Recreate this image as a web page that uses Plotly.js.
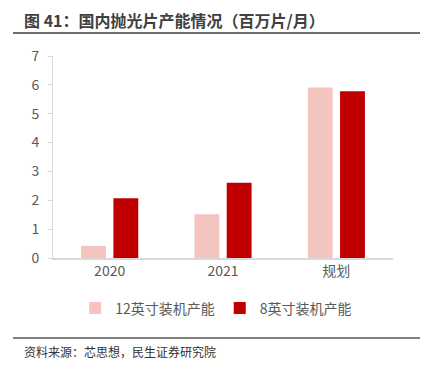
<!DOCTYPE html>
<html>
<head>
<meta charset="utf-8">
<script src="https://cdn.plot.ly/plotly-3.0.1.min.js"></script>
<style>html,body{margin:0;padding:0;background:#fff;}#chart{width:428px;height:368px;}</style>
</head>
<body>
<div id="chart"></div>
<script>
const categories = ["2020", "2021", "规划"];
const series12Name = "12英寸装机产能";
const series12 = [0.42, 1.52, 5.91];
const series8Name = "8英寸装机产能";
const series8 = [2.07, 2.61, 5.78];
const yTicks = [0, 1, 2, 3, 4, 5, 6, 7];

const font = "'Noto Sans CJK SC', 'Noto Sans', sans-serif";

const data = [
  {type: "bar", name: series12Name, x: categories, y: series12,
   marker: {color: "#F4C4C1", line: {width: 0}}, hoverinfo: "skip"},
  {type: "bar", name: series8Name, x: categories, y: series8,
   marker: {color: "#C00000", line: {width: 0}}, hoverinfo: "skip"}
];

const layout = {
  width: 428, height: 368,
  margin: {l: 53, r: 35, t: 56, b: 110},
  paper_bgcolor: "#fff", plot_bgcolor: "#fff",
  font: {family: font, color: "#595959", size: 14},
  barmode: "group", bargap: 0.43, bargroupgap: 0.23,
  showlegend: true,
  legend: {orientation: "h", x: 0.48, xanchor: "center", y: -0.25, yanchor: "middle",
           font: {size: 14, color: "#595959", family: font}, itemwidth: 30, tracegroupgap: 0},
  xaxis: {type: "category", showgrid: false, zeroline: false, showline: true,
          linecolor: "#D9D9D9", linewidth: 1.5, ticks: "", tickfont: {size: 14, color: "#595959"},
          fixedrange: true},
  yaxis: {range: [0, 7], tickvals: yTicks, showgrid: false, zeroline: false, showline: true,
          linecolor: "#D9D9D9", linewidth: 1, ticks: "outside", ticklen: 4, tickcolor: "#D9D9D9",
          tickfont: {size: 14, color: "#595959"}, ticklabelstandoff: 6, fixedrange: true},
  annotations: [
    {text: "<b>图 41：国内抛光片产能情况（百万片/月）</b>", xref: "paper", yref: "paper",
     x: (22 - 53) / 340, y: (258 - 20) / 202, xanchor: "left", yanchor: "middle", showarrow: false,
     font: {size: 16, color: "#404040", family: font}},
    {text: "资料来源：芯思想，民生证券研究院", xref: "paper", yref: "paper",
     x: (22 - 53) / 340, y: (258 - 351) / 202, xanchor: "left", yanchor: "middle", showarrow: false,
     font: {size: 12, color: "#333333", family: font}}
  ],
  shapes: [
    {type: "line", xref: "paper", yref: "paper", x0: (13 - 53) / 340, x1: (420 - 53) / 340,
     y0: (258 - 33) / 202, y1: (258 - 33) / 202, line: {color: "#6E6E6E", width: 2}},
    {type: "line", xref: "paper", yref: "paper", x0: (13 - 53) / 340, x1: (420 - 53) / 340,
     y0: (258 - 338) / 202, y1: (258 - 338) / 202, line: {color: "#7F7F7F", width: 2}}
  ]
};

Plotly.newPlot("chart", data, layout, {displayModeBar: false, staticPlot: true});
</script>
</body>
</html>
